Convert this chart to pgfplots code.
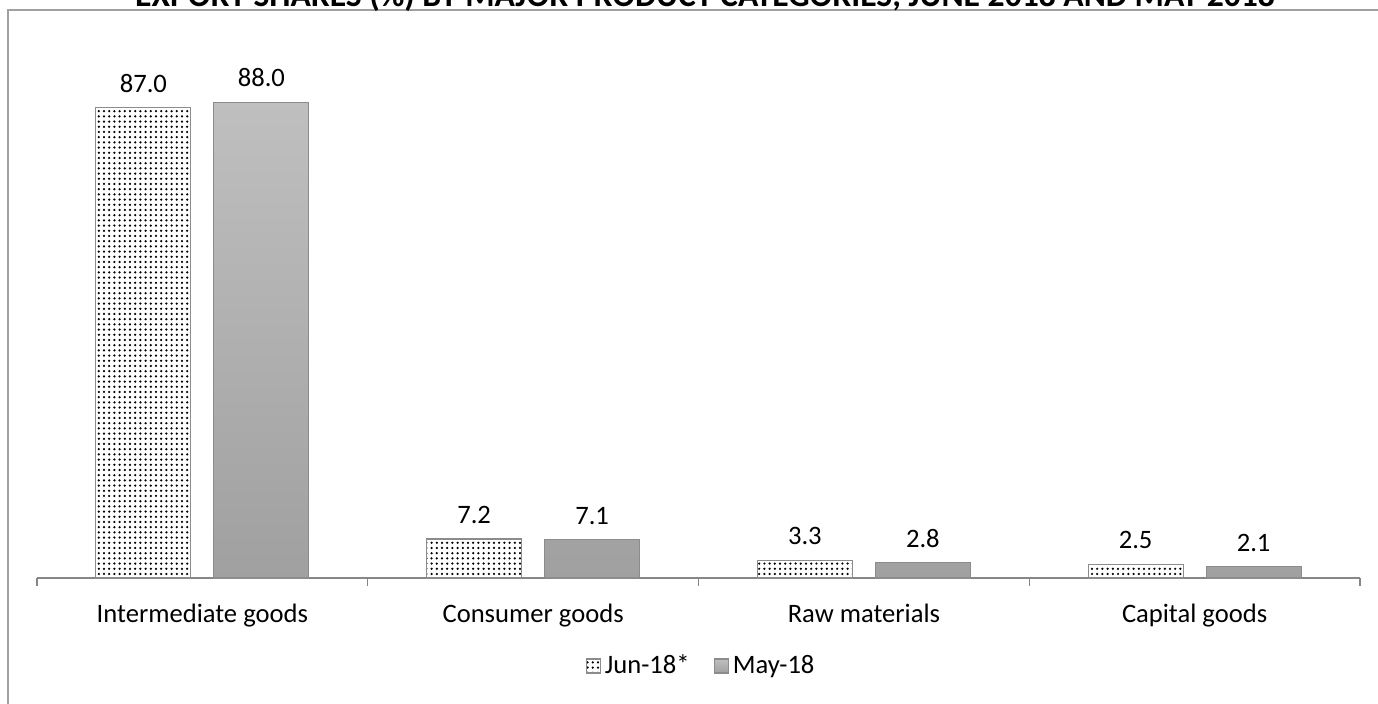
\documentclass[border=0pt]{standalone}
\usepackage{fontspec}
\setmainfont{Carlito}
\usepackage{pgfplots}
\pgfplotsset{compat=1.18}
\usetikzlibrary{patterns.meta}

\definecolor{framegray}{HTML}{A0A0A0}
\definecolor{axisgray}{HTML}{868686}
\definecolor{bargray}{HTML}{8C8C8C}
\definecolor{graytop}{HTML}{BFBFBF}
\definecolor{graybot}{HTML}{A0A0A0}

\begin{document}
\begin{tikzpicture}[x=1pt,y=1pt]
\useasboundingbox (0,0) rectangle (689,352);
\draw[framegray, line width=1pt] (4,-20) rectangle (720,347);
\node[font=\bfseries\fontsize{16.8}{19}\selectfont, anchor=base] at (352.5,348.5)
  {EXPORT SHARES (\%) BY MAJOR PRODUCT CATEGORIES, JUNE 2018 AND MAY 2018};
\begin{axis}[
  at={(18.5pt,63pt)}, anchor=south west,
  scale only axis, width=661.5pt, height=270.25pt,
  xmin=-0.5, xmax=3.5, ymin=0, ymax=100,
  ybar=11.5pt, bar width=47.5pt,
  axis x line*=bottom, axis y line=none,
  x axis line style={draw=axisgray, line width=0.6pt, -},
  xtick={-0.5,0.5,1.5,2.5,3.5}, xticklabels={},
  major tick length=4pt, tick align=outside,
  major x tick style={draw=axisgray, line width=0.6pt},
  extra x ticks={0,1,2,3},
  extra x tick labels={Intermediate goods, Consumer goods, Raw materials, Capital goods},
  extra x tick style={major tick length=0pt},
  ticklabel style={font=\fontsize{13.3}{16}\selectfont, black},
  xticklabel style={yshift=-9.5pt},
  ytick=\empty,
  nodes near coords={\pgfmathprintnumber[fixed,fixed zerofill,precision=1,assume math mode=true]{\pgfplotspointmeta}},
  every node near coord/.append style={font=\fontsize{13.3}{16}\selectfont, black, yshift=4pt},
  legend style={at={(0.5027,-0.1628)}, anchor=center, draw=none,
    legend columns=2, font=\fontsize{13.3}{16}\selectfont,
    /tikz/every even column/.append style={column sep=10pt}},
  legend image code/.code={\draw[#1] (0pt,-3.5pt) rectangle (7pt,3.5pt);},
  clip=false,
]
\addplot[draw=bargray, line width=0.6pt, fill=white,
  postaction={pattern={Dots[distance=2.6pt,radius=0.62pt]}, pattern color=black}]
  coordinates {(0,87.0) (1,7.2) (2,3.3) (3,2.5)};
\addplot[draw=bargray, line width=0.6pt, top color=graytop, bottom color=graybot]
  coordinates {(0,88.0) (1,7.1) (2,2.8) (3,2.1)};
\legend{Jun-18*, May-18}
\end{axis}
\end{tikzpicture}
\end{document}
